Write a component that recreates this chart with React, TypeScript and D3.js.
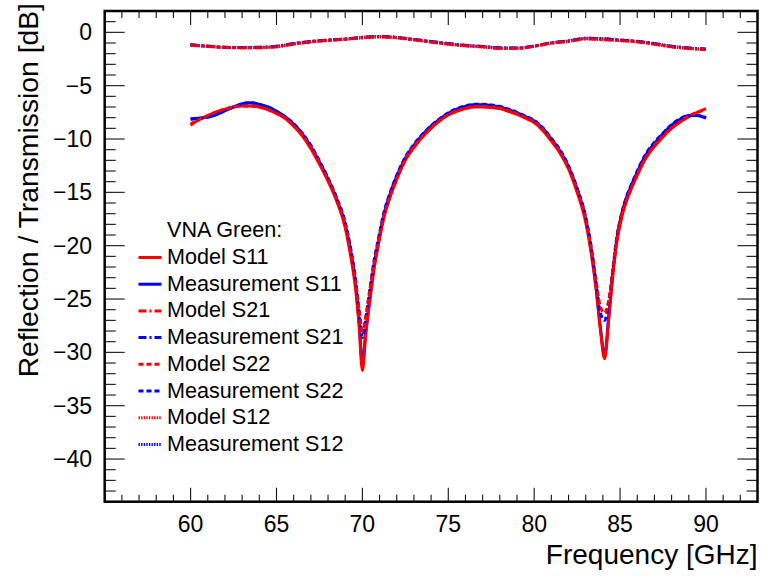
import React from "react";
import * as d3 from "d3";

// Frequency grids (GHz)
const freqRefl = [60,60.5,61,61.5,62,62.5,63,63.5,64,64.5,65,65.5,66,66.5,67,67.5,68,68.5,69,69.3,69.6,69.8,70,70.2,70.45,70.7,70.9,71.25,71.6,72,72.5,73,73.5,74,74.5,75,75.5,76,76.5,77,77.5,78,78.5,79,79.5,80,80.5,81,81.5,82,82.5,83,83.3,83.6,83.85,84.1,84.35,84.6,84.8,85.1,85.4,85.7,86,86.5,87,87.5,88,88.5,89,89.5,90];
const freqTrans = [60,61,62,63,64,65,66,67,68,69,70,71,72,73,74,75,76,77,78,79,80,81,82,83,84,85,86,87,88,89,90];

// Reflection [dB]
const modelS11 = [-8.7,-8.2,-7.8,-7.45,-7.2,-7.0,-6.9,-6.9,-7.0,-7.25,-7.6,-8.05,-8.8,-9.7,-10.9,-12.35,-13.95,-15.8,-18.3,-20.8,-24.0,-27.3,-31.7,-28.3,-25.0,-22.0,-20.2,-17.4,-15.5,-13.8,-12.0,-10.8,-9.8,-9.0,-8.3,-7.75,-7.4,-7.15,-7.0,-7.0,-7.05,-7.15,-7.4,-7.7,-8.05,-8.45,-9.2,-10.2,-11.3,-12.8,-15.0,-17.8,-20.5,-24.0,-27.8,-30.6,-26.8,-22.5,-19.8,-17.3,-15.7,-14.5,-13.4,-11.8,-10.7,-9.8,-9.0,-8.4,-7.9,-7.5,-7.15];
const measS11 = [-8.1,-8.05,-7.95,-7.7,-7.35,-7.0,-6.7,-6.6,-6.75,-7.0,-7.4,-7.9,-8.6,-9.5,-10.7,-12.15,-13.75,-15.6,-18.0,-20.3,-23.5,-27.0,-31.0,-28.0,-24.6,-21.6,-19.9,-17.1,-15.2,-13.5,-11.8,-10.6,-9.6,-8.8,-8.15,-7.6,-7.2,-6.95,-6.8,-6.8,-6.85,-7.0,-7.25,-7.55,-7.9,-8.3,-9.0,-10.0,-11.1,-12.6,-14.7,-17.5,-20.2,-23.8,-27.6,-30.3,-26.4,-22.2,-19.5,-17.0,-15.4,-14.2,-13.1,-11.5,-10.4,-9.5,-8.7,-8.15,-7.8,-7.8,-8.05];
const modelS22 = [-8.6,-8.15,-7.8,-7.45,-7.2,-7.0,-6.9,-6.9,-7.0,-7.25,-7.6,-8.05,-8.75,-9.6,-10.8,-12.25,-13.85,-15.7,-18.1,-20.5,-23.4,-25.9,-28.0,-26.6,-24.0,-21.6,-19.9,-17.2,-15.4,-13.7,-11.9,-10.7,-9.75,-8.95,-8.25,-7.7,-7.35,-7.1,-6.95,-6.95,-7.0,-7.1,-7.35,-7.65,-8.0,-8.4,-9.1,-10.1,-11.2,-12.7,-14.8,-17.5,-20.0,-23.3,-25.7,-26.3,-25.0,-22.0,-19.5,-17.1,-15.6,-14.4,-13.3,-11.7,-10.6,-9.7,-8.95,-8.35,-7.85,-7.5,-7.25];
const measS22 = [-8.15,-8.05,-7.95,-7.7,-7.35,-7.0,-6.7,-6.6,-6.75,-7.0,-7.4,-7.9,-8.55,-9.45,-10.6,-12.05,-13.65,-15.5,-17.8,-20.1,-23.1,-26.0,-28.6,-26.8,-23.9,-21.2,-19.6,-16.9,-15.1,-13.4,-11.7,-10.5,-9.55,-8.75,-8.1,-7.55,-7.15,-6.9,-6.75,-6.75,-6.8,-6.95,-7.2,-7.5,-7.85,-8.25,-8.95,-9.95,-11.0,-12.5,-14.6,-17.3,-19.9,-23.4,-26.3,-27.0,-25.3,-21.9,-19.3,-16.9,-15.3,-14.1,-13.0,-11.4,-10.3,-9.45,-8.65,-8.1,-7.8,-7.8,-8.0];

// Transmission [dB]
const modelS21 = [-1.2,-1.3,-1.4,-1.45,-1.45,-1.35,-1.1,-0.9,-0.75,-0.65,-0.5,-0.42,-0.5,-0.7,-0.9,-1.1,-1.25,-1.35,-1.5,-1.5,-1.3,-1.0,-0.85,-0.6,-0.68,-0.77,-0.88,-1.1,-1.35,-1.5,-1.6];
const measS21 = [-1.15,-1.3,-1.4,-1.42,-1.4,-1.3,-1.05,-0.85,-0.72,-0.62,-0.47,-0.38,-0.47,-0.66,-0.86,-1.05,-1.22,-1.32,-1.45,-1.47,-1.28,-0.98,-0.8,-0.55,-0.6,-0.72,-0.84,-1.05,-1.3,-1.47,-1.57];
const modelS12 = [-1.22,-1.32,-1.42,-1.46,-1.45,-1.36,-1.12,-0.9,-0.76,-0.66,-0.52,-0.44,-0.52,-0.71,-0.92,-1.12,-1.27,-1.37,-1.52,-1.52,-1.32,-1.02,-0.86,-0.62,-0.7,-0.78,-0.9,-1.12,-1.37,-1.52,-1.62];
const measS12 = [-1.17,-1.31,-1.41,-1.43,-1.41,-1.31,-1.06,-0.86,-0.73,-0.63,-0.48,-0.39,-0.48,-0.67,-0.87,-1.06,-1.23,-1.33,-1.46,-1.48,-1.29,-0.99,-0.81,-0.56,-0.61,-0.73,-0.85,-1.06,-1.31,-1.48,-1.58];

const xTickLabels = [60, 65, 70, 75, 80, 85, 90];
const yTickLabels = [0, -5, -10, -15, -20, -25, -30, -35, -40];
const legendTitle = "VNA Green:";

type Series = { name: string; x: number[]; y: number[]; color: string; dash: string };
const RED = "#ff0000";
const BLUE = "#0000ff";
const DASHDOT = "8,3,2,3";
const DASHED = "5,3";
const DOTTED = "1.4,1.2";

const series: Series[] = [
  { name: "Model S11", x: freqRefl, y: modelS11, color: RED, dash: "" },
  { name: "Measurement S11", x: freqRefl, y: measS11, color: BLUE, dash: "" },
  { name: "Model S21", x: freqTrans, y: modelS21, color: RED, dash: DASHDOT },
  { name: "Measurement S21", x: freqTrans, y: measS21, color: BLUE, dash: DASHDOT },
  { name: "Model S22", x: freqRefl, y: modelS22, color: RED, dash: DASHED },
  { name: "Measurement S22", x: freqRefl, y: measS22, color: BLUE, dash: DASHED },
  { name: "Model S12", x: freqTrans, y: modelS12, color: RED, dash: DOTTED },
  { name: "Measurement S12", x: freqTrans, y: measS12, color: BLUE, dash: DOTTED },
];

// draw order: measurement first, model on top
const drawOrder = [1, 0, 5, 4, 3, 2, 7, 6];

const W = 761, H = 576;
const L = 104.7, R = 757.5, T = 11, B = 501.7;
const FONT = "'Liberation Sans', Arial, Helvetica, sans-serif";

export default function App() {
  const x = d3.scaleLinear().domain([55, 93]).range([L, R]);
  const y = d3.scaleLinear().domain([2, -44]).range([T, B]);
  const line = (s: Series) =>
    d3.line<number>().x((_, i) => x(s.x[i])).y((v) => y(v)).curve(d3.curveMonotoneX)(s.y) || "";

  const xMinor = d3.range(56, 93, 1).filter((v) => v % 5 !== 0);
  const xMajor = d3.range(60, 91, 5);
  const yMinor = d3.range(-43, 2.01, 1).filter((v) => v % 5 !== 0);
  const yMajor = d3.range(-40, 0.01, 5);
  const fmt = (v: number) => (v < 0 ? "\u2212" + Math.abs(v) : String(v));

  const legX0 = 138.5, legX1 = 161.5, legText = 167, legBase0 = 237.3, legStep = 26.7;

  return (
    <svg width={W} height={H} style={{ position: "absolute", left: 0, top: 0, background: "#fff" }} fontFamily={FONT}>
      <rect x={0} y={0} width={W} height={H} fill="#fff" />
      {/* curves */}
      <g fill="none" strokeWidth={3} strokeLinejoin="round">
        {drawOrder.map((i) => (
          <path key={i} d={line(series[i])} stroke={series[i].color} strokeDasharray={series[i].dash || undefined} />
        ))}
      </g>
      {/* ticks */}
      <g stroke="#111" strokeWidth={1.1}>
        {xMajor.map((v) => (
          <g key={"xM" + v}>
            <line x1={x(v)} x2={x(v)} y1={B} y2={B - 14} />
            <line x1={x(v)} x2={x(v)} y1={T} y2={T + 14} />
          </g>
        ))}
        {xMinor.map((v) => (
          <g key={"xm" + v}>
            <line x1={x(v)} x2={x(v)} y1={B} y2={B - 7} />
            <line x1={x(v)} x2={x(v)} y1={T} y2={T + 7} />
          </g>
        ))}
        {yMajor.map((v) => (
          <g key={"yM" + v}>
            <line x1={L} x2={L + 20} y1={y(v)} y2={y(v)} />
            <line x1={R} x2={R - 20} y1={y(v)} y2={y(v)} />
          </g>
        ))}
        {yMinor.map((v) => (
          <g key={"ym" + v}>
            <line x1={L} x2={L + 11} y1={y(v)} y2={y(v)} />
            <line x1={R} x2={R - 11} y1={y(v)} y2={y(v)} />
          </g>
        ))}
      </g>
      {/* frame */}
      <rect x={L} y={T} width={R - L} height={B - T} fill="none" stroke="#000" strokeWidth={2.5} />
      {/* tick labels */}
      <g fontSize={23} fill="#000">
        {xTickLabels.map((v) => (
          <text key={"xl" + v} x={x(v)} y={532} textAnchor="middle">{fmt(v)}</text>
        ))}
        {yTickLabels.map((v) => (
          <text key={"yl" + v} x={92} y={y(v) + 8} textAnchor="end">{fmt(v)}</text>
        ))}
      </g>
      {/* axis titles */}
      <text x={R} y={564} textAnchor="end" fontSize={28} fill="#000">Frequency [GHz]</text>
      <text transform={`translate(38,3) rotate(-90)`} textAnchor="end" fontSize={28.3} fill="#000">
        Reflection / Transmission [dB]
      </text>
      {/* legend */}
      <g fontSize={21.6} fill="#000">
        <text x={legText} y={legBase0}>{legendTitle}</text>
        {series.map((s, i) => {
          const base = legBase0 + legStep * (i + 1);
          const ly = base - 6.5;
          return (
            <g key={"lg" + i}>
              <line x1={legX0} x2={legX1} y1={ly} y2={ly} stroke={s.color} strokeWidth={3} strokeDasharray={s.dash || undefined} />
              <text x={legText} y={base}>{s.name}</text>
            </g>
          );
        })}
      </g>
    </svg>
  );
}
